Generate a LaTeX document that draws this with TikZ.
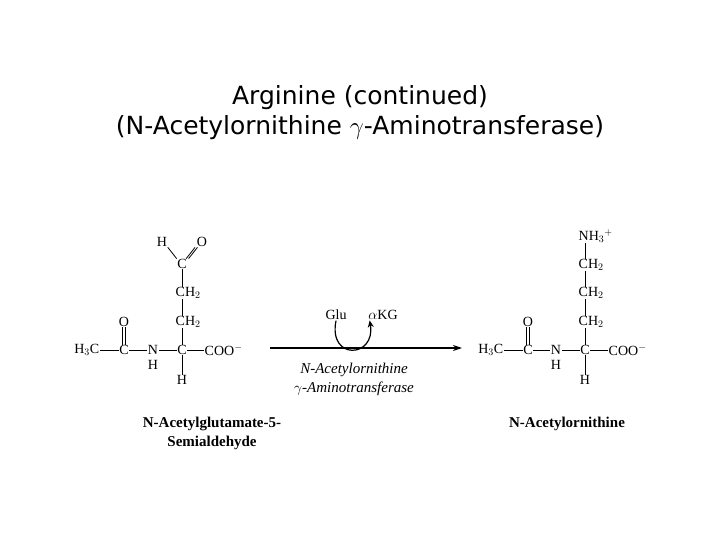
\documentclass[tikz,border=0pt]{standalone}
\usepackage{fontspec}
\setmainfont{Liberation Serif}
\newfontfamily\titlefont{DejaVu Sans}
\usetikzlibrary{arrows.meta}
\begin{document}
\begin{tikzpicture}[x=1pt,y=-1pt,
  atm/.style={inner sep=0.5pt,font=\fontsize{14}{14}\selectfont},
  bond/.style={line width=0.8pt},
  lab/.style={font=\bfseries\fontsize{15}{19}\selectfont,align=center},
  ttl/.style={font=\titlefont\fontsize{25}{30}\selectfont,align=center}]
\useasboundingbox (0,0) rectangle (720,540);
\node[ttl] (title) at (360,113) {Arginine (continued)\\(N-Acetylornithine $\gamma$-Aminotransferase)};
% left molecule
\node[atm,anchor=east] (lh3c) at (100,350) {H$_3$C};
\node[atm] (lc1) at (124,350) {C};
\node[atm] (lo1) at (124,322) {O};
\node[atm] (ln) at (153,350) {N};
\node[atm] (lnh) at (153,365) {H};
\node[atm] (lca) at (182,350) {C};
\node[atm,anchor=west] (lcoo) at (204,350) {COO$^{-}$};
\node[atm] (lh) at (182,380) {H};
\node[atm,anchor=west] (lch2a) at (175,322) {CH$_2$};
\node[atm,anchor=west] (lch2b) at (175,293) {CH$_2$};
\node[atm] (lcho) at (182,264) {C};
\node[atm] (lhh) at (162,242) {H};
\node[atm] (loo) at (202,242) {O};
\draw[bond] (lh3c.east) -- (lc1.west);
\draw[bond] ([xshift=-1.5]lc1.north) -- ([xshift=-1.5]lo1.south);
\draw[bond] ([xshift=1.5]lc1.north) -- ([xshift=1.5]lo1.south);
\draw[bond] (lc1.east) -- (ln.west);
\draw[bond] (ln.east) -- (lca.west);
\draw[bond] (lca.east) -- (lcoo.west);
\draw[bond] (lca.south) -- (lh.north);
\draw[bond] (lca.north) -- (lca.north|-lch2a.south);
\draw[bond] (lcho.south|-lch2a.north) -- (lcho.south|-lch2b.south);
\draw[bond] (lcho.south|-lch2b.north) -- (lcho.south);
\draw[bond] (lhh.south east) -- (lcho.north west);
\draw[bond] ([xshift=-1.2]loo.south west) -- ([xshift=-1.2]lcho.north east);
\draw[bond] ([xshift=1.2]loo.south west) -- ([xshift=1.2]lcho.north east);
% right molecule
\node[atm,anchor=east] (rh3c) at (504,350) {H$_3$C};
\node[atm] (rc1) at (528,350) {C};
\node[atm] (ro1) at (528,322) {O};
\node[atm] (rn) at (556,350) {N};
\node[atm] (rnh) at (556,365) {H};
\node[atm] (rca) at (585,350) {C};
\node[atm,anchor=west] (rcoo) at (608,350) {COO$^{-}$};
\node[atm] (rh) at (585,380) {H};
\node[atm,anchor=west] (rch2a) at (578,322) {CH$_2$};
\node[atm,anchor=west] (rch2b) at (578,293) {CH$_2$};
\node[atm,anchor=west] (rch2c) at (578,265) {CH$_2$};
\node[atm,anchor=west] (rnh3) at (578,236) {NH$_3$$^{+}$};
\draw[bond] (rh3c.east) -- (rc1.west);
\draw[bond] ([xshift=-1.5]rc1.north) -- ([xshift=-1.5]ro1.south);
\draw[bond] ([xshift=1.5]rc1.north) -- ([xshift=1.5]ro1.south);
\draw[bond] (rc1.east) -- (rn.west);
\draw[bond] (rn.east) -- (rca.west);
\draw[bond] (rca.east) -- (rcoo.west);
\draw[bond] (rca.south) -- (rh.north);
\draw[bond] (rca.north) -- (rca.north|-rch2a.south);
\draw[bond] (rca.north|-rch2a.north) -- (rca.north|-rch2b.south);
\draw[bond] (rca.north|-rch2b.north) -- (rca.north|-rch2c.south);
\draw[bond] (rca.north|-rch2c.north) -- (rca.north|-rnh3.south);
% arrow
\coordinate (as) at (270,348);
\coordinate (ae) at (462,348);
\draw[line width=1.3pt,-{Stealth[length=9pt,width=6pt]}] (as) -- (ae);
\node[atm] (glu) at (336,315) {Glu};
\node[atm] (akg) at (383,315) {$\alpha$KG};
\draw[line width=1.2pt,-{Stealth[length=7pt,width=6pt]}] (glu.south) .. controls (328,361) and (376,358) .. ([xshift=2pt]akg.south west);
\node[font=\itshape\fontsize{15}{19}\selectfont,align=center] (enz) at (354,379) {N-Acetylornithine\\$\gamma$-Aminotransferase};
\node[lab] (l1) at (212,433) {N-Acetylglutamate-5-\\Semialdehyde};
\node[lab] (l2) at (567,424) {N-Acetylornithine};
\end{tikzpicture}
\end{document}
